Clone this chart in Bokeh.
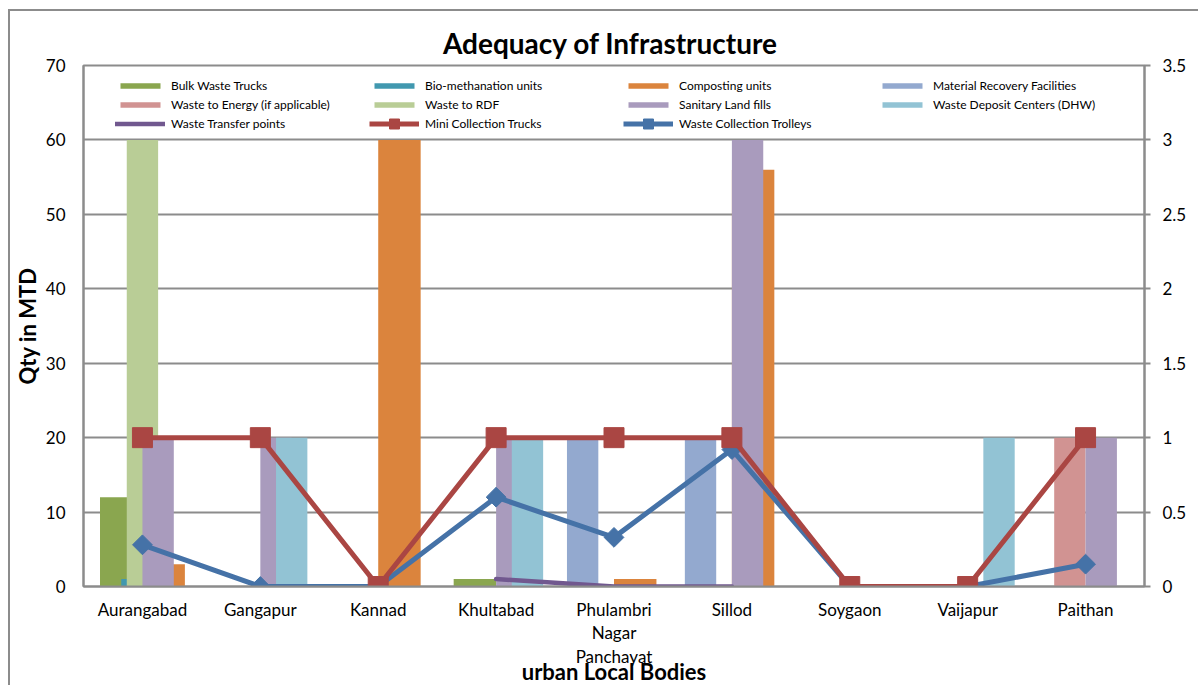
import numpy as np
from bokeh.plotting import figure
from bokeh.models import (FactorRange, Range1d, LinearAxis, FixedTicker, Legend,
                          LegendItem, ColumnDataSource, CustomJSTickFormatter)
from bokeh.transform import dodge
from bokeh.embed import file_html
from bokeh.resources import INLINE

# ---------------- data ----------------
categories = ["Aurangabad", "Gangapur", "Kannad", "Khultabad", "Phulambri Nagar Panchayat",
              "Sillod", "Soygaon", "Vaijapur", "Paithan"]
bulk_waste_trucks = [12, 0, 0, 1, 0, 0, 0, 0, 0]
bio_methanation_units = [1, 0, 0, 0, 0, 0, 0, 0, 0]
composting_units = [3, 0, 60, 0, 1, 56, 0, 0, 0]
material_recovery = [0, 0, 0, 0, 20, 20, 0, 0, 0]
waste_to_energy = [0, 0, 0, 0, 0, 0, 0, 0, 20]
waste_to_rdf = [60, 0, 0, 0, 0, 0, 0, 0, 0]
sanitary_land_fills = [20, 20, 0, 20, 0, 60, 0, 0, 20]
waste_deposit_centers = [0, 20, 0, 20, 0, 0, 0, 20, 0]
waste_transfer_points = [np.nan, np.nan, np.nan, 1, 0, 0, np.nan, np.nan, np.nan]
mini_collection_trucks = [1, 1, 0, 1, 1, 1, 0, 0, 1]
waste_collection_trolleys = [0.28, 0, 0, 0.6, 0.33, 0.92, 0, 0, 0.15]
left_ticks = [0, 10, 20, 30, 40, 50, 60, 70]
right_ticks = [0, 0.5, 1, 1.5, 2, 2.5, 3, 3.5]

FONT = "Lato"
GRID = "#8c8c8c"

src = ColumnDataSource(dict(
    cat=categories, bulk=bulk_waste_trucks, bio=bio_methanation_units,
    comp=composting_units, mrf=material_recovery, wte=waste_to_energy,
    rdf=waste_to_rdf, slf=sanitary_land_fills, dwc=waste_deposit_centers,
    wtp=np.array(waste_transfer_points, dtype=float),
    mini=mini_collection_trucks, trol=waste_collection_trolleys))

p = figure(width=1190, height=676, output_backend="svg", toolbar_location=None,
           x_range=FactorRange(factors=categories, range_padding=0),
           y_range=Range1d(0, 70),
           min_border_left=73, min_border_right=56, min_border_top=54, min_border_bottom=101)
p.styles = {"margin-left": "8px", "margin-top": "9px",
            "border-left": "2px solid #8c8c8c", "border-top": "2px solid #8c8c8c"}
p.extra_y_ranges = {"right": Range1d(0, 3.5)}
p.background_fill_color = "white"
p.border_fill_color = "white"
p.outline_line_color = GRID
p.outline_line_width = 2

# title
p.title.text = "Adequacy of  Infrastructure"
p.title.align = "center"
p.title.text_font = FONT
p.title.text_font_size = "28px"
p.title.text_font_style = "bold"
p.title.text_color = "black"
p.title.standoff = 12

# ---------------- bars ----------------
grpA_w = 0.36
grpB_w = 0.266
bar_specs = [
    ("bulk", -0.18, grpA_w, "#8AA64F", "Bulk Waste Trucks"),
    ("bio", 0.0, grpA_w, "#4198AF", "Bio-methanation units"),
    ("comp", 0.18, grpA_w, "#DB843D", "Composting units"),
    ("mrf", -0.266, grpB_w, "#93A9CF", "Material Recovery Facilities"),
    ("wte", -0.133, grpB_w, "#D19392", "Waste to Energy (if applicable)"),
    ("rdf", 0.0, grpB_w, "#B9CD96", "Waste to RDF"),
    ("slf", 0.133, grpB_w, "#A99BBD", "Sanitary Land fills"),
    ("dwc", 0.266, grpB_w, "#92C3D4", "Waste Deposit Centers (DHW)"),
]
bar_r = {}
for col, off, w, c, lab in bar_specs:
    bar_r[lab] = p.vbar(x=dodge("cat", off, range=p.x_range), top=col, width=w, source=src,
                        fill_color=c, line_color=None)

# ---------------- lines ----------------
r_wtp = p.line(x="cat", y="wtp", source=src, line_color="#71588F", line_width=4.5,
               line_cap="round")
r_trol_l = p.line(x="cat", y="trol", source=src, y_range_name="right",
                  line_color="#4572A7", line_width=5)
r_trol_m = p.scatter(x="cat", y="trol", source=src, y_range_name="right", marker="square",
                     angle=np.pi / 4, size=14, fill_color="#4572A7", line_color="#4572A7")
r_mini_l = p.line(x="cat", y="mini", source=src, y_range_name="right",
                  line_color="#AA4643", line_width=5)
r_mini_m = p.scatter(x="cat", y="mini", source=src, y_range_name="right", marker="square",
                     size=20, fill_color="#AA4643", line_color="#AA4643")

# ---------------- axes ----------------
p.xgrid.grid_line_color = None
p.ygrid.grid_line_color = GRID
p.ygrid.grid_line_width = 2
p.ygrid.ticker = FixedTicker(ticks=left_ticks)

ya = p.yaxis[0]
ya.ticker = FixedTicker(ticks=left_ticks)
ya.axis_label = "Qty in MTD"
ya.axis_label_text_font = FONT
ya.axis_label_text_font_size = "22px"
ya.axis_label_text_font_style = "bold"
ya.axis_label_text_color = "black"
ya.axis_label_standoff = 2
ya.major_label_text_font = FONT
ya.major_label_text_font_size = "17px"
ya.major_label_text_color = "black"
ya.major_label_standoff = 18
ya.major_tick_out = 0
ya.major_tick_in = 0
ya.minor_tick_out = 0
ya.minor_tick_in = 0
ya.axis_line_color = GRID
ya.axis_line_width = 2

ra = LinearAxis(y_range_name="right", ticker=FixedTicker(ticks=right_ticks),
                formatter=CustomJSTickFormatter(code="return tick.toString();"))
ra.major_label_text_font = FONT
ra.major_label_text_font_size = "17px"
ra.major_label_text_color = "black"
ra.major_label_standoff = 12
ra.major_tick_out = 6
ra.major_tick_in = 0
ra.minor_tick_out = 0
ra.minor_tick_in = 0
ra.axis_line_color = GRID
ra.axis_line_width = 2
ra.major_tick_line_color = GRID
ra.major_tick_line_width = 2
p.add_layout(ra, "right")

xa = p.xaxis[0]
xa.formatter = CustomJSTickFormatter(code="return String(tick).split(' ').join('\\n');")
xa.major_label_text_font = FONT
xa.major_label_text_font_size = "17px"
xa.major_label_text_color = "black"
xa.major_label_text_line_height = 1.13
xa.major_label_standoff = 12
xa.major_tick_out = 0
xa.major_tick_in = 0
xa.axis_line_color = GRID
xa.axis_line_width = 2
xa.axis_label = "urban Local Bodies"
xa.axis_label_text_font = FONT
xa.axis_label_text_font_size = "22px"
xa.axis_label_text_font_style = "bold"
xa.axis_label_text_color = "black"
xa.axis_label_standoff = -12

# ---------------- legends ----------------
bar_order = ["Bulk Waste Trucks", "Bio-methanation units", "Composting units",
             "Material Recovery Facilities", "Waste to Energy (if applicable)", "Waste to RDF",
             "Sanitary Land fills", "Waste Deposit Centers (DHW)"]
common = dict(orientation="horizontal", ncols=4, padding=0, margin=0,
              glyph_width=50, label_width=194, label_standoff=6, spacing=4,
              label_text_font=FONT, label_text_font_size="12px", label_text_color="black",
              background_fill_alpha=0, border_line_alpha=0)
legend1 = Legend(items=[LegendItem(label=lab, renderers=[bar_r[lab]]) for lab in bar_order],
                 location=(32, 474), glyph_height=7, label_height=15, **common)
legend2 = Legend(items=[
    LegendItem(label="Waste Transfer points", renderers=[r_wtp]),
    LegendItem(label="Mini Collection Trucks", renderers=[r_mini_l, r_mini_m]),
    LegendItem(label="Waste Collection Trolleys", renderers=[r_trol_l, r_trol_m]),
], location=(32, 450), glyph_height=25, label_height=25, **common)
p.add_layout(legend1, "center")
p.add_layout(legend2, "center")

open("out.html", "w").write(file_html(p, INLINE))
